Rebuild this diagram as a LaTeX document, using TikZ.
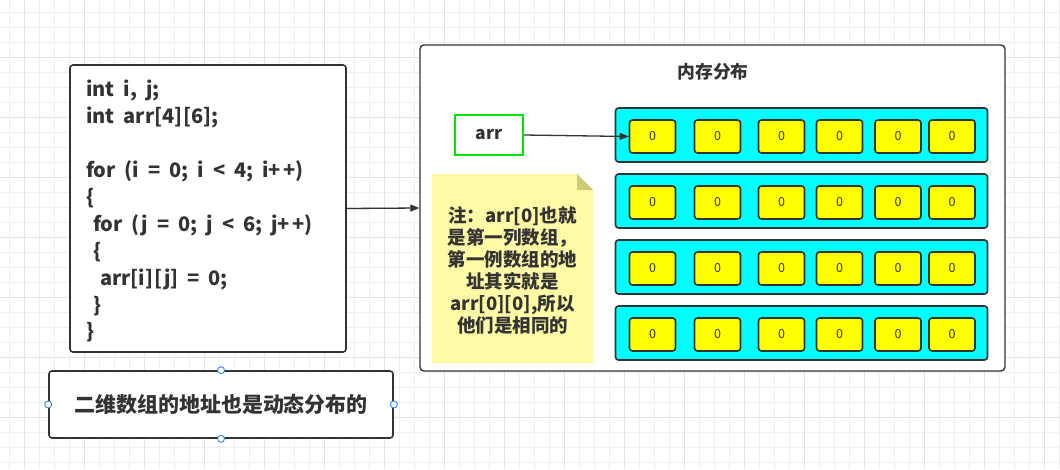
\documentclass[tikz,border=0pt]{standalone}
\usepackage{fontspec}
\setmainfont{Noto Sans CJK SC}
\usetikzlibrary{arrows.meta}
\definecolor{ink}{HTML}{333333}
\definecolor{gridmin}{HTML}{EFEFEF}
\definecolor{gridmaj}{HTML}{E3E3E3}
\definecolor{cyanfill}{HTML}{00FFFF}
\definecolor{yelfill}{HTML}{FFFF00}
\definecolor{notefill}{HTML}{FFFAA6}
\definecolor{notefold}{HTML}{CDCB78}
\definecolor{greenb}{HTML}{00E600}
\definecolor{handleblue}{HTML}{2E86F0}
\tikzset{
  box/.style={draw=ink, line width=1.6pt, rounded corners=3pt, fill=white},
  rowbox/.style={draw=ink, line width=1.6pt, rounded corners=3pt, fill=cyanfill, minimum width=372pt, minimum height=54pt, inner sep=0pt},
  cell/.style={draw=ink, line width=1.6pt, rounded corners=3pt, fill=yelfill, minimum width=46pt, minimum height=33pt, inner sep=0pt, text=ink, font=\fontsize{12.5}{12.5}\selectfont},
  conn/.style={draw=ink, line width=1.3pt, -{Triangle[length=9pt,width=7pt]}},
  handle/.style={draw=handleblue, fill=white, line width=0.9pt},
  btext/.style={text=ink, font=\bfseries}
}
\newcommand{\pp}{+\kern2.5pt+}
\newcommand{\widespaces}{\spaceskip=9pt\relax}
\begin{document}
\begin{tikzpicture}[x=1pt,y=-1pt]
\useasboundingbox (0,0) rectangle (1060,469);
\fill[white] (0,0) rectangle (1060,469);
% grid
\foreach \x in {9.5,24.5,...,1060} \draw[gridmin, line width=0.8pt] (\x,0) -- (\x,469);
\foreach \y in {12,27,...,469} \draw[gridmin, line width=0.8pt] (0,\y) -- (1060,\y);
\foreach \x in {24.5,84.5,...,1060} \draw[gridmaj, line width=0.8pt] (\x,0) -- (\x,469);
\foreach \y in {57,117,...,469} \draw[gridmaj, line width=0.8pt] (0,\y) -- (1060,\y);

% code box
\node[box, minimum width=276pt, minimum height=287pt, inner sep=0pt] (code) at (208,208.5) {};
\node[btext, anchor=north west, inner sep=0pt, align=left,
      execute at begin node=\widespaces,
      font=\bfseries\fontsize{20}{26.9}\selectfont] (codetext) at (86,80)
{int i, j;\\
int arr[4]\kern1pt[6];\\
\strut\\
for (i = 0; i {\char`<} 4; i\pp)\\
\{\\
\hspace{7pt}for (j = 0; j {\char`<} 6; j\pp)\\
\hspace{7pt}\{\\
\hspace{14pt}arr[i]\kern1pt[j] = 0;\\
\hspace{7pt}\}\\
\}};

% bottom label
\node[box, minimum width=344pt, minimum height=67pt, inner sep=0pt,
      btext, font=\bfseries\fontsize{21}{24}\selectfont] (label) at (221,404.5) {二维数组的地址也是动态分布的};
\foreach \a in {north,south,east,west} \draw[handle] (label.\a) circle[radius=3.5pt];

% container
\node[draw=ink, line width=1.4pt, rounded corners=4pt, fill=white, minimum width=585pt, minimum height=326pt, inner sep=0pt] (mem) at (712.5,208) {};
\node[btext, font=\bfseries\fontsize{17.8}{20}\selectfont] (title) at (713,72) {内存分布};

% arr box
\node[draw=greenb, line width=1.6pt, fill=white, minimum width=68pt, minimum height=40pt, inner sep=0pt,
      btext, font=\bfseries\fontsize{17.5}{18}\selectfont] (arr) at (489,135) {arr};

% rows and cells
\foreach \r/\yy in {1/135,2/201,3/267,4/333} {
  \node[rowbox] (row\r) at (801.5,\yy) {};
  \foreach \k/\xx in {1/652.5,2/717.5,3/781.5,4/839.5,5/898,6/952} {
    \node[cell] (c\r-\k) at (\xx,\yy+1.5) {0};
  }
}

% note
\fill[notefill] (432,174) -- (577,174) -- (593,190) -- (593,363) -- (432,363) -- cycle;
\fill[notefold] (577,174) -- (593,190) -- (577,190) -- cycle;
\node[btext, align=center, inner sep=0pt, font=\bfseries\fontsize{18.5}{22}\selectfont] (note) at (512.5,270.5)
{注：arr[0]也就\\是第一列数组，\\第一例数组的地\\址其实就是\\arr[0][0],所以\\他们是相同的};

% connectors
\draw[conn] (code.east) -- (mem.west);
\draw[conn] (arr.east) -- (c1-1.west);
\end{tikzpicture}
\end{document}
